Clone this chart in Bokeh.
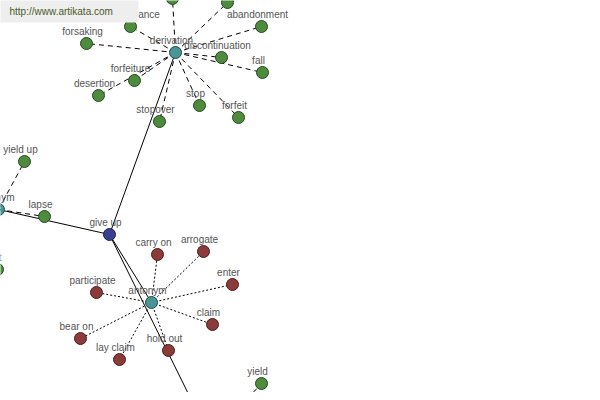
from bokeh.plotting import figure
from bokeh.models import Range1d, ColumnDataSource
from bokeh.core.properties import value
from bokeh.embed import file_html
from bokeh.resources import INLINE

# ---- data -------------------------------------------------------------
node_names = ["give up", "derivation", "synonym", "antonym", "hypernym",
              "renunciation", "surrender", "discontinuance", "abandonment",
              "discontinuation", "fall", "forfeit", "stop", "stopover",
              "forfeiture", "desertion", "forsaking",
              "yield up", "lapse", "quit",
              "carry on", "arrogate", "enter", "claim", "hold out",
              "lay claim", "bear on", "participate",
              "yield"]
node_x = [109, 175, -2, 151, 210,
          172, 227, 130, 261,
          221, 262, 238, 199, 159,
          134, 98, 86,
          24, 44, -3,
          157, 203, 232, 212, 168,
          119, 80, 96,
          261]
node_y = [234, 52, 209, 302, 438,
          -2, 2, 26, 26,
          57, 72, 117, 105, 121,
          80, 95, 43,
          161, 216, 269,
          254, 251, 284, 324, 350,
          359, 338, 292,
          383]
node_group = ["root", "hub", "hub", "hub", "hub",
              "syn", "syn", "syn", "syn",
              "syn", "syn", "syn", "syn", "syn",
              "syn", "syn", "syn",
              "syn", "syn", "syn",
              "ant", "ant", "ant", "ant", "ant",
              "ant", "ant", "ant",
              "syn"]

edge_src = ["give up", "give up", "give up", "give up",
            "derivation", "derivation", "derivation", "derivation",
            "derivation", "derivation", "derivation", "derivation",
            "derivation", "derivation", "derivation", "derivation",
            "synonym", "synonym", "synonym",
            "antonym", "antonym", "antonym", "antonym",
            "antonym", "antonym", "antonym", "antonym",
            "hypernym"]
edge_dst = ["derivation", "synonym", "antonym", "hypernym",
            "renunciation", "surrender", "discontinuance", "abandonment",
            "discontinuation", "fall", "forfeit", "stop",
            "stopover", "forfeiture", "desertion", "forsaking",
            "yield up", "lapse", "quit",
            "carry on", "arrogate", "enter", "claim",
            "hold out", "lay claim", "bear on", "participate",
            "yield"]
edge_kind = ["solid"] * 4 + ["dashed"] * 15 + ["dotted"] * 8 + ["dashed"]

watermark = "http://www.artikata.com"

# ---- styles -----------------------------------------------------------
fill_of = {"root": "#3b3f92", "hub": "#4a9696", "syn": "#4e8b3e", "ant": "#8c3b3b"}
line_of = {"root": "#1e2050", "hub": "#234848", "syn": "#244a1e", "ant": "#4a1c1c"}
dash_of = {"solid": "solid", "dashed": "5 4", "dotted": "2 2"}

pos = {n: (x, y) for n, x, y in zip(node_names, node_x, node_y)}

p = figure(width=592, height=392, output_backend="svg", toolbar_location=None,
           x_range=Range1d(0, 592), y_range=Range1d(392, 0),
           min_border=0)
p.axis.visible = False
p.grid.visible = False
p.outline_line_color = None
p.background_fill_color = "white"

for kind in ["solid", "dashed", "dotted"]:
    xs, ys = [], []
    for s, d, k in zip(edge_src, edge_dst, edge_kind):
        if k == kind:
            xs.append([pos[s][0], pos[d][0]])
            ys.append([pos[s][1], pos[d][1]])
    p.multi_line(xs, ys, line_color="black", line_width=1, line_dash=dash_of[kind])

src = ColumnDataSource(dict(
    x=node_x, y=node_y, name=node_names,
    fill=[fill_of[g] for g in node_group],
    line=[line_of[g] for g in node_group],
))
p.scatter("x", "y", source=src, size=12, fill_color="fill", line_color="line",
          line_width=1)
p.text("x", "y", text="name", source=src, x_offset=-4, y_offset=-12,
       text_align="center", text_baseline="middle",
       text_font=value("Liberation Sans"), text_font_size="10px",
       text_color="#555555")

# watermark box
p.quad(left=[-10], right=[138], top=[-10], bottom=[22], fill_color="#eeeeee",
       line_color=None)
p.text([9], [11], text=[watermark], text_align="left", text_baseline="middle",
       text_font=value("Liberation Sans"), text_font_size="10px",
       text_color="#4a5a2a")

open("out.html", "w").write(file_html(p, INLINE))
